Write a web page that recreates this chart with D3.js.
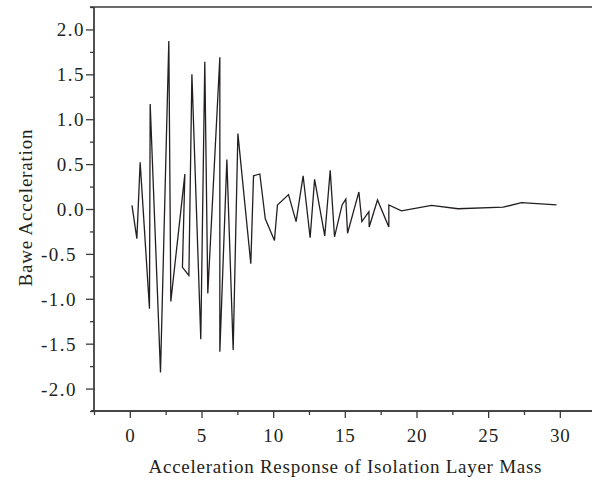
<!DOCTYPE html>
<html>
<head>
<meta charset="utf-8">
<script src="https://cdn.jsdelivr.net/npm/d3@7"></script>
<style>
  html, body { margin: 0; padding: 0; background: #fff; }
  svg { display: block; }
  text { font-family: "Liberation Serif", "DejaVu Serif", serif; fill: #231f20; }
</style>
</head>
<body>
<svg id="chart" width="592" height="480"></svg>
<script>
const xValues = [0.15, 0.49, 0.72, 1.37, 1.42, 2.14, 2.72, 2.86, 3.84, 3.67, 4.12, 4.33, 4.95, 5.23, 5.44, 6.28, 6.28, 6.77, 7.21, 7.54, 8.44, 8.63, 9.07, 9.45, 10.09, 10.3, 11.07, 11.6, 12.09, 12.58, 12.89, 13.6, 13.98, 14.28, 14.81, 15.07, 15.19, 15.98, 16.19, 16.68, 16.7, 17.28, 18.07, 18.07, 18.95, 21.05, 22.9, 26.05, 27.33, 29.77];
const yValues = [0.04, -0.33, 0.52, -1.11, 1.17, -1.82, 1.87, -1.03, 0.39, -0.65, -0.74, 1.50, -1.45, 1.64, -0.94, 1.69, -1.59, 0.55, -1.57, 0.84, -0.61, 0.37, 0.39, -0.11, -0.35, 0.045, 0.16, -0.14, 0.37, -0.32, 0.33, -0.30, 0.43, -0.31, 0.045, 0.11, -0.27, 0.19, -0.14, -0.03, -0.2, 0.10, -0.2, 0.045, -0.02, 0.04, 0.003, 0.02, 0.07, 0.045];
const xMajorTicks = [0, 5, 10, 15, 20, 25, 30];
const xMinorTicks = [-2.5, 2.5, 7.5, 12.5, 17.5, 22.5, 27.5, 32.5];
const yMajorTicks = [-2.0, -1.5, -1.0, -0.5, 0.0, 0.5, 1.0, 1.5, 2.0];
const yMinorTicks = [-2.25, -1.75, -1.25, -0.75, -0.25, 0.25, 0.75, 1.25, 1.75, 2.25];
const xTitle = "Acceleration Response of Isolation Layer Mass";
const yTitle = "Bawe Acceleration";

const svg = d3.select("#chart");
const plotLeft = 94, plotTop = 7, plotBottom = 411;
const x = d3.scaleLinear().domain([-2.5, 32.5]).range([plotLeft, plotLeft + 35 * 14.333]);
const y = d3.scaleLinear().domain([-2.25, 2.25]).range([plotBottom, plotTop]);
const axisColor = "#3a3a3a";

// top frame line
svg.append("line").attr("x1", 90).attr("x2", 592).attr("y1", plotTop).attr("y2", plotTop)
  .attr("stroke", axisColor).attr("stroke-width", 1.3);

// x axis
const gx = svg.append("g").attr("transform", `translate(0,${plotBottom})`);
gx.call(d3.axisBottom(x).tickValues(xMajorTicks).tickSize(7).tickFormat(d3.format("d")));
gx.append("g").call(d3.axisBottom(x).tickValues(xMinorTicks).tickSize(4).tickFormat(""));
gx.selectAll(".domain").attr("d", `M${plotLeft - 3},0H592`);
gx.selectAll(".tick text").attr("y", 31).attr("dy", 0).attr("letter-spacing", 0.8);

// y axis
const gy = svg.append("g").attr("transform", `translate(${plotLeft},0)`);
gy.call(d3.axisLeft(y).tickValues(yMajorTicks).tickSize(8).tickFormat(d => d.toFixed(1)));
gy.append("g").call(d3.axisLeft(y).tickValues(yMinorTicks).tickSize(4).tickFormat(""));
gy.selectAll(".domain").attr("d", `M0,${plotTop}V${plotBottom}`);
gy.selectAll(".tick text")
  .attr("x", d => d < 0 ? -17 : -9)
  .attr("dy", "0.34em")
  .attr("letter-spacing", 1.5);

svg.selectAll(".domain, .tick line").attr("stroke", axisColor).attr("stroke-width", 1.3);
svg.selectAll(".tick text").attr("font-family", "Liberation Serif, serif").attr("font-size", 19).attr("fill", "#231f20");

// line
const pts = xValues.map((v, i) => [v, yValues[i]]);
svg.append("path").datum(pts)
  .attr("fill", "none").attr("stroke", "#231f20").attr("stroke-width", 1.3)
  .attr("stroke-linejoin", "miter")
  .attr("d", d3.line().x(d => x(d[0])).y(d => y(d[1])));

// titles
svg.append("text").attr("x", 345).attr("y", 473).attr("text-anchor", "middle")
  .attr("font-size", 19).attr("textLength", 393).attr("lengthAdjust", "spacing").text(xTitle);
svg.append("text").attr("transform", "translate(32,208) rotate(-90)").attr("text-anchor", "middle")
  .attr("font-size", 19).attr("textLength", 157).attr("lengthAdjust", "spacing").text(yTitle);
</script>
</body>
</html>
